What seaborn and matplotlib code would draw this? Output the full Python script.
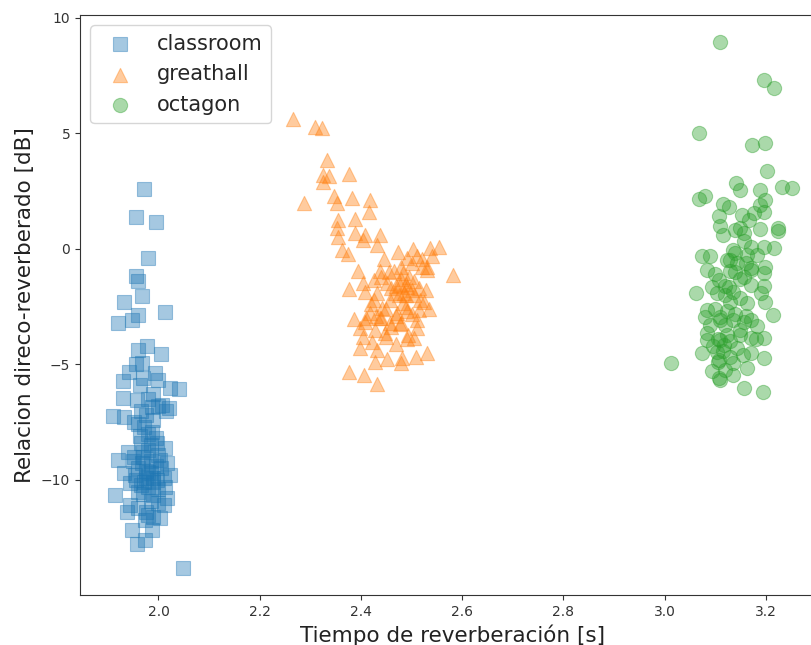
import matplotlib
matplotlib.use("Agg")
import matplotlib.pyplot as plt
import seaborn as sns
import pandas as pd

rooms = ["classroom", "greathall", "octagon"]

classroom_t60 = [1.971, 1.955, 1.995, 1.979, 1.955, 1.960, 1.968, 1.931, 2.013, 1.960, 1.947, 1.921,
                 1.977, 1.960, 2.005, 1.967, 1.942, 1.993, 1.929, 1.964, 2.000, 2.023, 2.040, 1.930,
                 1.957, 2.007, 1.987, 1.910, 1.931, 1.951, 1.971, 1.987, 1.964, 1.997, 1.980, 2.013,
                 1.921, 1.951, 1.967, 2.003, 2.017, 1.931, 1.954, 1.980, 2.023, 1.944, 1.971, 1.997,
                 2.013, 1.914, 1.960, 1.990, 2.017, 1.944, 2.010, 1.938, 1.980, 2.003, 1.974, 1.987,
                 1.947, 1.957, 1.974, 2.048,
                 1.975, 1.990, 1.960, 1.980, 1.995, 1.965, 1.985, 2.000, 1.970, 1.985, 1.995, 1.960,
                 1.975, 1.990, 2.005, 1.965, 1.980, 2.000, 1.955, 1.970, 1.985, 2.000, 1.960, 1.975,
                 1.990, 2.010, 1.950, 1.940, 2.015, 2.020, 1.980, 1.990, 1.970, 1.955, 2.000, 1.965,
                 1.985, 1.975, 1.990, 1.970]
classroom_drr = [2.58, 1.37, 1.18, -0.40, -1.17, -1.41, -2.03, -2.28, -2.74, -2.86, -3.07, -3.19,
                 -4.19, -4.37, -4.56, -4.95, -5.31, -5.38, -5.74, -5.89, -5.67, -6.03, -6.07, -6.46,
                 -6.54, -6.75, -6.83, -7.23, -7.26, -7.48, -7.69, -7.91, -8.12, -8.41, -8.70, -8.63,
                 -9.13, -8.99, -9.28, -9.13, -9.28, -9.71, -9.78, -9.64, -9.78, -10.14, -10.07, -10.00,
                 -10.29, -10.65, -10.51, -10.65, -10.79, -11.08, -11.08, -11.37, -11.52, -11.66, -11.73, -12.16,
                 -12.16, -12.77, -12.60, -13.82,
                 -7.2, -7.4, -7.6, -8.0, -8.2, -8.4, -8.5, -8.9, -9.0, -9.2, -9.4, -9.5,
                 -9.6, -9.9, -9.5, -10.2, -10.3, -10.4, -10.0, -10.6, -10.9, -11.0, -11.2, -11.4,
                 -11.6, -9.9, -9.2, -8.8, -7.0, -6.9, -6.5, -6.3, -5.6, -5.0, -6.8, -7.0,
                 -9.7, -9.9, -10.1, -8.8]

greathall_t60 = [2.266, 2.310, 2.323, 2.333, 2.325, 2.336, 2.325, 2.377, 2.287, 2.347, 2.353, 2.382,
                 2.418, 2.417, 2.355, 2.389, 2.353, 2.354, 2.389, 2.409, 2.438, 2.404, 2.432, 2.362,
                 2.375, 2.474, 2.502, 2.536, 2.555, 2.446, 2.491, 2.521, 2.540, 2.530, 2.394, 2.438,
                 2.465, 2.484, 2.581, 2.425, 2.405, 2.451, 2.478, 2.491, 2.377, 2.528, 2.409, 2.432,
                 2.468, 2.504, 2.425, 2.458, 2.517, 2.484, 2.442, 2.534, 2.514, 2.418, 2.471, 2.491,
                 2.387, 2.438, 2.409, 2.458, 2.478, 2.399, 2.428, 2.511, 2.448, 2.494, 2.405, 2.422,
                 2.491, 2.504, 2.399, 2.432, 2.530, 2.451, 2.481, 2.509, 2.428, 2.480, 2.377, 2.407,
                 2.432,
                 2.480, 2.490, 2.500, 2.470, 2.485, 2.495, 2.505, 2.475, 2.460, 2.490, 2.470, 2.450,
                 2.440, 2.430, 2.460, 2.480, 2.500, 2.520, 2.510, 2.530, 2.480, 2.455, 2.515, 2.525,
                 2.440, 2.420, 2.410, 2.450, 2.470, 2.490, 2.500, 2.510]
greathall_drr = [5.61, 5.27, 5.22, 3.85, 3.20, 3.16, 2.91, 3.25, 1.98, 2.29, 1.98, 2.19,
                 2.12, 1.61, 1.26, 1.28, 0.90, 0.53, 0.68, 0.61, 0.61, 0.39, 0.17, -0.04,
                 -0.22, -0.12, -0.01, 0.03, 0.07, -0.45, -0.40, -0.45, -0.33, -0.77, -0.94, -0.98,
                 -0.98, -1.05, -1.13, -1.34, -1.49, -1.49, -1.56, -1.63, -1.75, -1.77, -1.85, -1.89,
                 -1.92, -1.99, -2.21, -2.21, -2.21, -2.35, -2.57, -2.61, -2.64, -2.76, -2.78, -2.71,
                 -3.04, -3.00, -3.15, -3.19, -3.25, -3.43, -3.51, -3.43, -3.65, -3.72, -3.80, -4.01,
                 -3.91, -3.87, -4.30, -4.37, -4.49, -4.77, -4.73, -4.69, -4.88, -4.95, -5.35, -5.45,
                 -5.84,
                 -1.3, -1.5, -1.8, -1.6, -1.9, -1.2, -1.4, -2.0, -1.7, -2.5, -2.9, -2.6,
                 -3.0, -2.9, -3.4, -3.2, -0.6, -0.8, -0.3, -0.9, -0.8, -1.0, -1.7, -2.3,
                 -1.2, -2.4, -3.0, -3.8, -4.1, -2.0, -2.8, -3.1]

octagon_t60 = [3.110, 3.196, 3.217, 3.069, 3.173, 3.198, 3.203, 3.142, 3.150, 3.189, 3.232, 3.252,
               3.069, 3.080, 3.199, 3.116, 3.127, 3.189, 3.196, 3.107, 3.153, 3.176, 3.166, 3.110,
               3.150, 3.189, 3.225, 3.225, 3.116, 3.140, 3.157, 3.157, 3.136, 3.170, 3.196, 3.216,
               3.074, 3.090, 3.123, 3.163, 3.183, 3.143, 3.199, 3.084, 3.130, 3.170, 3.196, 3.157,
               3.107, 3.094, 3.127, 3.170, 3.196, 3.063, 3.103, 3.136, 3.150, 3.163, 3.199, 3.084,
               3.123, 3.080, 3.110, 3.136, 3.157, 3.170, 3.214, 3.183, 3.084, 3.123, 3.150, 3.084,
               3.110, 3.170, 3.196, 3.117, 3.143, 3.074, 3.103, 3.130, 3.170, 3.196, 3.013, 3.107,
               3.136, 3.094, 3.163, 3.120, 3.107, 3.110, 3.136, 3.157, 3.195,
               3.130, 3.140, 3.150, 3.120, 3.130, 3.100, 3.110, 3.120, 3.150, 3.140, 3.160, 3.105,
               3.095, 3.115, 3.105, 3.130, 3.160, 3.170, 3.140, 3.090, 3.180, 3.155, 3.120, 3.100,
               3.190]
octagon_drr = [8.97, 7.32, 6.96, 5.01, 4.50, 4.60, 3.38, 2.84, 2.55, 2.55, 2.67, 2.65,
               2.16, 2.29, 2.12, 1.95, 1.83, 1.90, 1.61, 1.40, 1.47, 1.55, 1.26, 0.97,
               0.90, 0.85, 0.90, 0.78, 0.61, 0.82, 0.68, 0.32, -0.04, 0.10, 0.10, 0.03,
               -0.30, -0.33, -0.48, -0.26, -0.26, -0.62, -0.77, -0.91, -0.98, -0.84, -1.05, -1.20,
               -1.34, -1.63, -1.63, -1.56, -1.60, -1.92, -1.92, -1.85, -2.13, -2.35, -2.28, -2.64,
               -2.71, -2.93, -2.93, -3.07, -3.15, -3.07, -2.86, -3.36, -3.65, -3.72, -3.72, -3.94,
               -3.94, -3.87, -3.87, -4.16, -4.30, -4.52, -4.45, -4.66, -4.52, -4.73, -4.92, -4.81,
               -4.95, -5.27, -5.16, -5.24, -5.60, -5.67, -5.45, -6.03, -6.18,
               -0.5, -1.0, -1.3, -1.6, -2.3, -2.6, -3.1, -3.3, -3.5, -2.8, -2.9, -3.9,
               -4.2, -4.4, -4.9, -4.0, -0.6, -0.9, -0.2, -3.3, -3.9, -4.6, -2.0, -1.1,
               -1.9]

markers = ["s", "^", "o"]
colors = ["#1f77b4", "#ff7f0e", "#2ca02c"]

frames = []
for room, t, d in [("classroom", classroom_t60, classroom_drr),
                   ("greathall", greathall_t60, greathall_drr),
                   ("octagon", octagon_t60, octagon_drr)]:
    frames.append(pd.DataFrame({"t60": t, "drr": d, "room": room}))
df = pd.concat(frames, ignore_index=True)

sns.set_style("ticks")
plt.rcParams["font.family"] = ["DejaVu Sans"]

fig = plt.figure(figsize=(8.12, 6.45), dpi=100)
ax = fig.add_axes([80 / 812, 1 - 595 / 645, (825 - 80) / 812, (595 - 15) / 645])

for room, m, c in zip(rooms, markers, colors):
    sub = df[df["room"] == room]
    sns.scatterplot(data=sub, x="t60", y="drr", marker=m, color=c, alpha=0.4,
                    s=105, edgecolor=c, linewidth=0.8, label=room, ax=ax)

ax.set_xlim(1.845, 3.317)
ax.set_ylim(-14.98, 10.12)
ax.set_xticks([2.0, 2.2, 2.4, 2.6, 2.8, 3.0, 3.2])
ax.set_yticks([-10, -5, 0, 5, 10])
ax.tick_params(labelsize=10, colors="#333333")
for sp in ax.spines.values():
    sp.set_color("#333333")
ax.set_xlabel("Tiempo de reverberación [s]", fontsize=15.5, color="#222222")
ax.set_ylabel("Relacion direco-reverberado [dB]", fontsize=15.5, color="#222222")
ax.legend(loc="upper left", fontsize=15, frameon=True)

fig.savefig("out.png", dpi=100)
